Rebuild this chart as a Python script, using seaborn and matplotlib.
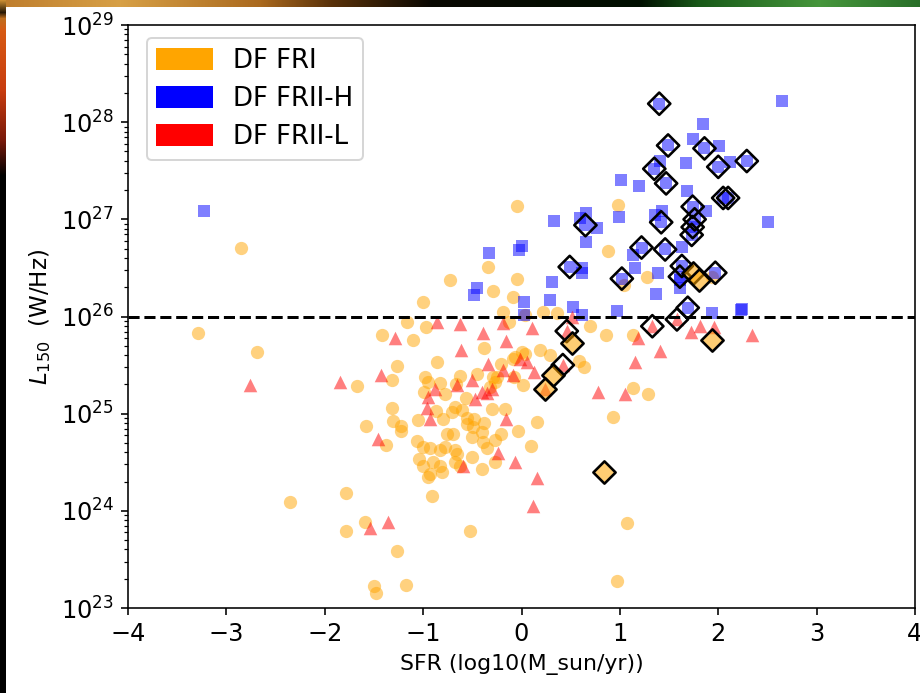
import numpy as np
import matplotlib
matplotlib.use("Agg")
import matplotlib.pyplot as plt
import seaborn as sns
import pandas as pd
from matplotlib.patches import Patch

# ---- data: log10 SFR [M_sun/yr] and log10 L150 [W/Hz] ----
fri_sfr = [-3.29, -2.85, -2.69, -2.35, -1.78, -1.78, -1.59, -1.27, -1.50, -1.48, -1.17, -1.58,
           -1.67, -1.42, -1.38, -1.32, -1.27, -1.32, -1.31, -1.22, -1.22, -1.16, -1.10, -1.00,
           -0.97, -0.86, -0.98, -0.95, -0.83, -0.63, -0.67, -0.99, -0.78, -0.56, -0.27, -0.32,
           -0.25, 0.02, -0.08, -0.45, -0.68, -0.71, -0.60, -0.55, -0.87, -1.05, -0.80, -0.76,
           -0.70, -0.78, -1.06, -1.00, -0.93, -0.83, -0.68, -0.66, -0.55, -0.49, -0.48, -0.38,
           -0.40, -0.50, -0.39, -0.35, -0.27, -0.21, -0.30, -0.17, -0.04, 0.16, 0.10, -1.04,
           -1.00, -0.90, -0.83, -0.81, -0.93, -0.95, -0.68, -0.63, -0.50, -0.40, -0.27, 0.04,
           -0.38, 0.19, 0.29, -0.07, 0.01, -0.73, -0.29, -0.09, -0.19, 0.22, 0.36, -0.13,
           0.04, 0.70, 0.86, 1.13, -0.09, 0.58, 0.64, -0.21, -0.29, 1.13, 1.29, 0.93,
           -0.52, 1.07, 0.97, -0.05, 0.98, 0.88, 1.28, 1.04, -0.34, -0.05, 1.94, -0.91]
fri_logL = [25.83, 26.70, 25.63, 24.09, 24.18, 23.79, 23.89, 23.59, 23.23, 23.15, 23.24, 24.87,
            25.28, 25.81, 24.68, 25.35, 25.49, 25.06, 24.92, 24.82, 24.87, 25.94, 25.76, 26.15,
            25.89, 25.53, 25.38, 25.33, 25.32, 25.39, 25.31, 25.22, 25.20, 25.16, 25.33, 25.27,
            25.38, 25.29, 25.38, 25.41, 25.07, 25.02, 25.04, 24.96, 25.03, 24.93, 24.94, 24.79,
            24.79, 24.66, 24.72, 24.66, 24.65, 24.63, 24.63, 24.58, 24.89, 24.86, 24.94, 24.90,
            24.81, 24.76, 24.71, 24.65, 24.73, 24.79, 25.05, 25.05, 24.82, 24.91, 24.67, 24.53,
            24.46, 24.50, 24.46, 24.40, 24.38, 24.35, 24.50, 24.46, 24.55, 24.43, 24.50, 25.61,
            25.68, 25.66, 25.60, 25.58, 25.63, 26.38, 26.26, 26.20, 26.05, 26.05, 26.04, 25.94,
            26.02, 25.90, 25.81, 25.81, 25.56, 25.54, 25.48, 25.51, 25.38, 25.26, 25.20, 24.97,
            23.79, 23.87, 23.28, 27.14, 27.15, 26.67, 26.41, 26.32, 26.51, 26.39, 26.41, 24.15]

friih_sfr = [-3.23, 2.65, 2.51, 2.23, 1.84, 1.74, 2.01, 2.12, 1.67, 1.41, 1.01, 1.19,
             1.68, 1.43, 1.88, 1.36, 0.66, 0.59, 0.33, 0.99, 0.77, 0.66, 0.01, -0.03,
             -0.33, 1.63, 1.13, 1.15, 1.39, 0.62, 0.61, 1.61, 1.61, 0.31, -0.45, -0.48,
             0.03, 0.29, 1.37, 0.97, 0.52, 0.62, 1.94, 2.24, 0.03]
friih_logL = [27.09, 28.22, 26.97, 26.07, 27.98, 27.83, 27.75, 27.59, 27.58, 27.60, 27.40, 27.34,
              27.29, 27.09, 27.09, 27.04, 27.07, 27.01, 26.98, 27.02, 26.91, 26.77, 26.73, 26.68,
              26.65, 26.72, 26.63, 26.50, 26.45, 26.50, 26.45, 26.38, 26.29, 26.35, 26.29, 26.22,
              26.15, 26.17, 26.23, 26.06, 26.10, 26.02, 26.04, 26.08, 26.02]

friil_sfr = [-2.76, -1.85, -1.29, -1.43, -0.86, -0.63, -0.61, -0.88, -0.66, -0.95, -0.96, -0.93,
             -1.46, -0.59, -1.36, -1.54, -0.39, -0.19, 0.11, -0.16, -0.34, -0.19, -0.09, -0.02,
             0.06, 0.13, -0.50, -0.47, -0.35, -0.30, -0.40, -0.16, -0.24, -0.07, 0.16, 0.12,
             0.51, 0.78, 1.05, 1.15, 1.18, 1.41, 1.72, 1.81, 1.96, 2.34, 0.24]
friil_logL = [25.30, 25.33, 25.78, 25.40, 25.94, 25.92, 25.66, 25.25, 25.29, 25.17, 25.06, 24.94,
              24.74, 24.46, 23.89, 23.82, 25.83, 25.93, 25.88, 25.75, 25.51, 25.45, 25.40, 25.56,
              25.53, 25.43, 25.35, 25.15, 25.21, 25.25, 25.22, 24.94, 24.60, 24.50, 24.34, 24.05,
              25.99, 25.22, 25.20, 25.53, 25.78, 25.64, 25.84, 25.90, 25.89, 25.81, 25.25]

# highlighted sources (diamonds), with their class
hl_sfr = [1.40, 1.49, 1.86, 2.29, 2.00, 1.35, 1.47, 2.05, 2.10, 1.74, 1.76, 1.74,
          1.73, 0.65, 1.42, 1.22, 1.46, 0.49, 1.63, 1.61, 1.97, 1.69, 1.02,
          1.74, 1.80, 0.51, 0.32, 0.24, 0.84, 1.94,
          0.46, 0.42, 1.33, 1.58]
hl_logL = [28.19, 27.76, 27.73, 27.60, 27.54, 27.52, 27.37, 27.22, 27.22, 27.13, 27.00, 26.92,
           26.84, 26.94, 26.97, 26.71, 26.69, 26.51, 26.52, 26.41, 26.45, 26.09, 26.39,
           26.45, 26.38, 25.73, 25.40, 25.25, 24.40, 25.76,
           25.85, 25.50, 25.90, 25.97]
hl_class = ["FRII-H"] * 23 + ["FRI"] * 7 + ["FRII-L"] * 4

L_BREAK = 26.0
legend_labels = ["DF FRI", "DF FRII-H", "DF FRII-L"]
class_colors = {"FRI": "orange", "FRII-H": "blue", "FRII-L": "red"}

# ---- tables ----
fri = pd.DataFrame({"sfr": fri_sfr, "L": np.power(10.0, fri_logL)})
hl = pd.DataFrame({"sfr": hl_sfr, "L": np.power(10.0, hl_logL), "cls": hl_class})
friih = pd.concat([pd.DataFrame({"sfr": friih_sfr, "L": np.power(10.0, friih_logL)}),
                   hl.loc[hl.cls == "FRII-H", ["sfr", "L"]]], ignore_index=True)
friil = pd.concat([pd.DataFrame({"sfr": friil_sfr, "L": np.power(10.0, friil_logL)}),
                   hl.loc[hl.cls == "FRII-L", ["sfr", "L"]]], ignore_index=True)
hl_fri = hl[hl.cls == "FRI"]
hl_other = hl[hl.cls != "FRI"]

# ---- figure with slide-style backdrop ----
W, H = 920, 693
fig = plt.figure(figsize=(W / 144, H / 144), dpi=144, facecolor="black")

bg = fig.add_axes([0, 0, 1, 1], zorder=-5)
bg.axis("off")
img = np.ones((H, W, 3))
xs = np.arange(W)
ys = np.arange(H)
top_x = [0, 120, 260, 330, 430, 640, 700, 820, 920]
top_rgb = [(190, 125, 45), (215, 160, 70), (170, 105, 30), (90, 50, 10), (10, 8, 2),
           (0, 15, 0), (25, 90, 25), (70, 150, 60), (40, 110, 40)]
top = np.stack([np.interp(xs, top_x, [c[k] for c in top_rgb]) for k in range(3)], axis=1) / 255
img[:7, :, :] = top[None, :, :]
left_y = [0, 12, 18, 30, 90, 140, 175, 693]
left_rgb = [(200, 140, 50), (40, 25, 5), (190, 110, 30), (215, 90, 20), (200, 60, 15),
            (120, 25, 10), (0, 0, 0), (0, 0, 0)]
left = np.stack([np.interp(ys, left_y, [c[k] for c in left_rgb]) for k in range(3)], axis=1) / 255
img[:, :6, :] = left[:, None, :]
bg.imshow(img, aspect="auto", extent=(0, 1, 0, 1), interpolation="bilinear")

ax = fig.add_axes([128 / W, 1 - 608 / H, (915 - 128) / W, (608 - 25) / H])

sns.scatterplot(data=fri, x="sfr", y="L", ax=ax, color="orange", alpha=0.5,
                marker="o", s=44, linewidth=0, legend=False)
sns.scatterplot(data=friih, x="sfr", y="L", ax=ax, color="blue", alpha=0.5,
                marker="s", s=32, linewidth=0, legend=False)
sns.scatterplot(data=friil, x="sfr", y="L", ax=ax, color="red", alpha=0.5,
                marker="^", s=46, linewidth=0, legend=False)
sns.scatterplot(data=hl_other, x="sfr", y="L", ax=ax, marker="D", s=62,
                facecolor="none", edgecolor="black", linewidth=1.3, legend=False)
ax.scatter(hl_fri["sfr"], hl_fri["L"], marker="D", s=62,
           facecolor=(1.0, 0.647, 0.0, 0.55), edgecolor="black", linewidth=1.3, zorder=3)

ax.axhline(10 ** L_BREAK, color="black", linestyle="--", linewidth=1.5)

ax.set_yscale("log")
ax.set_xlim(-4, 4)
ax.set_ylim(1e23, 1e29)
ax.set_xticks(np.arange(-4, 5, 1))
ax.tick_params(axis="both", labelsize=12)
ax.set_xlabel("SFR (log10(M_sun/yr))", fontsize=11)
ax.set_ylabel(r"$L_{150}$  (W/Hz)", fontsize=11.5)

handles = [Patch(color=class_colors[c]) for c in ["FRI", "FRII-H", "FRII-L"]]
ax.legend(handles, legend_labels, loc="upper left", fontsize=13,
          bbox_to_anchor=(19 / 787, 1 - 13 / 583), borderaxespad=0,
          handlelength=2.1, handleheight=0.8, labelspacing=0.45)

fig.savefig("out.png", dpi=144, facecolor=fig.get_facecolor())
